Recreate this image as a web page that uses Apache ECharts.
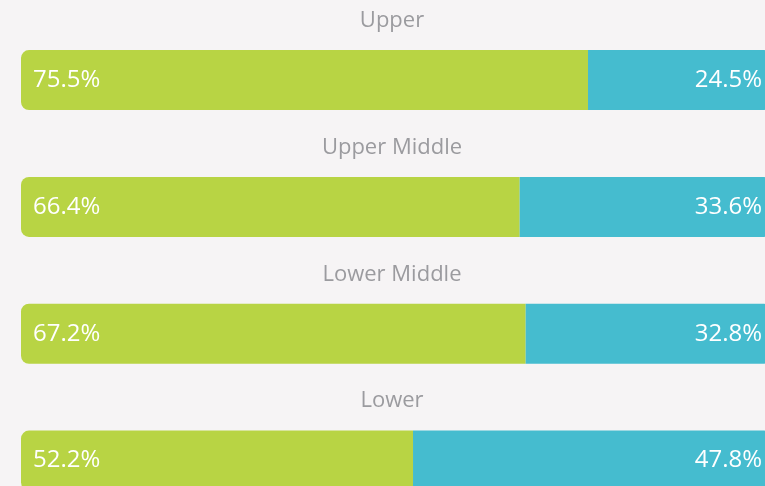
<!DOCTYPE html>
<html>
<head>
<meta charset="utf-8">
<script src="https://cdn.jsdelivr.net/npm/echarts@6/dist/echarts.min.js"></script>
<style>
html, body { margin: 0; padding: 0; background: #f6f4f5; overflow: hidden; }
/* chart is a bit larger than the window: the last bar and the right ends are cut off */
#chart { width: 772px; height: 524px; }
</style>
</head>
<body>
<div id="chart"></div>
<script>
var categories = ['Upper', 'Upper Middle', 'Lower Middle', 'Lower'];
var firstShare = [75.5, 66.4, 67.2, 52.2];
var secondShare = [24.5, 33.6, 32.8, 47.8];

var chart = echarts.init(document.getElementById('chart'));

// one title above each bar
var titles = categories.map(function (name, i) {
    return {
        text: name,
        left: 387,
        textAlign: 'center',
        top: 5 + i * 126.7,
        textStyle: {
            color: '#9b9b9f',
            fontSize: 22,
            fontWeight: 'normal',
            fontFamily: 'Open Sans'
        }
    };
});

var labelStyle = {
    show: true,
    color: '#ffffff',
    fontSize: 24,
    fontFamily: 'Open Sans',
    formatter: function (p) { return p.value.toFixed(1) + '%'; }
};

var option = {
    backgroundColor: '#f6f4f5',
    animation: false,
    title: titles,
    grid: {
        left: 21,
        right: 0,
        top: 16.7,
        bottom: 0
    },
    xAxis: {
        type: 'value',
        min: 0,
        max: 100,
        show: false
    },
    yAxis: {
        type: 'category',
        data: categories,
        inverse: true,
        show: false
    },
    series: [
        {
            type: 'bar',
            stack: 'share',
            data: firstShare,
            barWidth: 60,
            itemStyle: { color: '#b8d444', borderRadius: [8, 0, 0, 8] },
            label: Object.assign({ position: 'insideLeft', distance: 12 }, labelStyle)
        },
        {
            type: 'bar',
            stack: 'share',
            data: secondShare,
            barWidth: 60,
            itemStyle: { color: '#45bccf', borderRadius: [0, 8, 8, 0] },
            label: Object.assign({ position: 'insideRight', distance: 10 }, labelStyle)
        }
    ]
};

chart.setOption(option);
window.onresize = chart.resize;
</script>
</body>
</html>
